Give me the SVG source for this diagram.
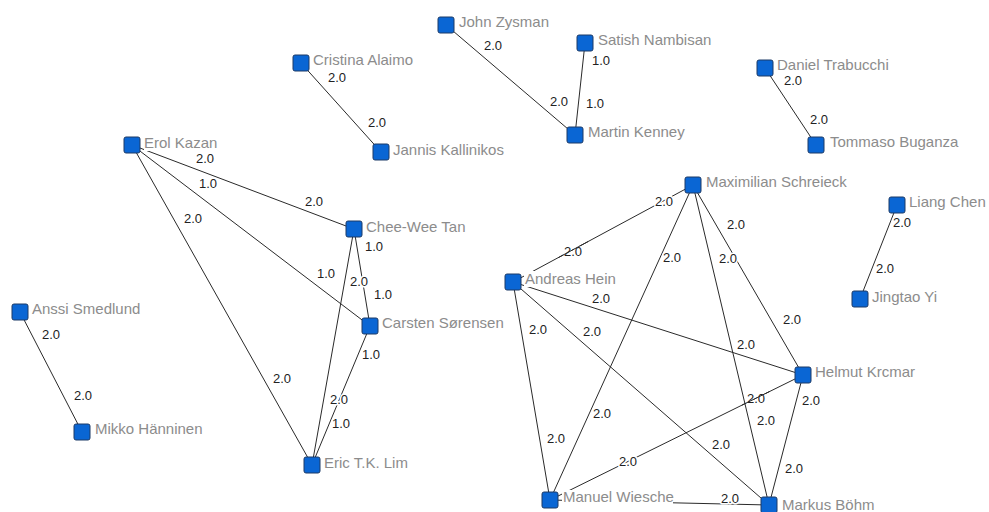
<svg xmlns="http://www.w3.org/2000/svg" width="989" height="512" viewBox="0 0 989 512">
<style>
.e{stroke:#2a2a2a;stroke-width:1;fill:none}
.el{font-family:"Liberation Sans",Arial,sans-serif;font-size:13px;fill:#222;stroke:#fff;stroke-width:3px;paint-order:stroke;stroke-linejoin:round}
.n{fill:#0a66d4;stroke:#1d3a66;stroke-width:1}
.nl{font-family:"Liberation Sans",Arial,sans-serif;font-size:15px;fill:#8c8c8c}
.bg{fill:#fff}
</style>
<rect width="989" height="512" fill="#fff"/>
<g id="connectors">
<line class="e" x1="132" y1="145" x2="354" y2="229"/>
<line class="e" x1="132" y1="145" x2="370" y2="326"/>
<line class="e" x1="132" y1="145" x2="312" y2="465"/>
<line class="e" x1="354" y1="229" x2="370" y2="326"/>
<line class="e" x1="354" y1="229" x2="312" y2="465"/>
<line class="e" x1="370" y1="326" x2="312" y2="465"/>
<line class="e" x1="301" y1="63" x2="381" y2="152"/>
<line class="e" x1="446" y1="25" x2="575" y2="135"/>
<line class="e" x1="585" y1="43" x2="575" y2="135"/>
<line class="e" x1="765" y1="68" x2="816" y2="145"/>
<line class="e" x1="897" y1="205" x2="860" y2="299"/>
<line class="e" x1="20" y1="312" x2="82" y2="432"/>
<line class="e" x1="513" y1="282" x2="693" y2="185"/>
<line class="e" x1="513" y1="282" x2="803" y2="375"/>
<line class="e" x1="513" y1="282" x2="550" y2="500"/>
<line class="e" x1="513" y1="282" x2="769" y2="505"/>
<line class="e" x1="693" y1="185" x2="803" y2="375"/>
<line class="e" x1="693" y1="185" x2="550" y2="500"/>
<line class="e" x1="693" y1="185" x2="769" y2="505"/>
<line class="e" x1="803" y1="375" x2="550" y2="500"/>
<line class="e" x1="803" y1="375" x2="769" y2="505"/>
<line class="e" x1="550" y1="500" x2="769" y2="505"/>
<g id="edge-labels">
<text class="el" x="196" y="163">2.0</text>
<text class="el" x="199" y="188">1.0</text>
<text class="el" x="305" y="206">2.0</text>
<text class="el" x="184" y="223">2.0</text>
<text class="el" x="365" y="251">1.0</text>
<text class="el" x="317" y="278">1.0</text>
<text class="el" x="350" y="286">2.0</text>
<text class="el" x="374" y="299">1.0</text>
<text class="el" x="362" y="359">1.0</text>
<text class="el" x="273" y="383">2.0</text>
<text class="el" x="330" y="404">2.0</text>
<text class="el" x="332" y="428">1.0</text>
<text class="el" x="484" y="50">2.0</text>
<text class="el" x="592" y="65">1.0</text>
<text class="el" x="328" y="82">2.0</text>
<text class="el" x="368" y="127">2.0</text>
<text class="el" x="550" y="106">2.0</text>
<text class="el" x="586" y="108">1.0</text>
<text class="el" x="784" y="85">2.0</text>
<text class="el" x="810" y="124">2.0</text>
<text class="el" x="893" y="227">2.0</text>
<text class="el" x="876" y="273">2.0</text>
<text class="el" x="42" y="339">2.0</text>
<text class="el" x="74" y="400">2.0</text>
<text class="el" x="655" y="206">2.0</text>
<text class="el" x="727" y="229">2.0</text>
<text class="el" x="564" y="256">2.0</text>
<text class="el" x="663" y="262">2.0</text>
<text class="el" x="719" y="263">2.0</text>
<text class="el" x="592" y="303">2.0</text>
<text class="el" x="529" y="334">2.0</text>
<text class="el" x="583" y="336">2.0</text>
<text class="el" x="783" y="324">2.0</text>
<text class="el" x="737" y="349">2.0</text>
<text class="el" x="747" y="403">2.0</text>
<text class="el" x="802" y="405">2.0</text>
<text class="el" x="593" y="418">2.0</text>
<text class="el" x="757" y="425">2.0</text>
<text class="el" x="547" y="443">2.0</text>
<text class="el" x="712" y="449">2.0</text>
<text class="el" x="619" y="466">2.0</text>
<text class="el" x="785" y="473">2.0</text>
<text class="el" x="721" y="503">2.0</text>
</g>
<line class="e" x1="558" y1="257.8" x2="588" y2="241.6"/>
<line class="e" x1="742" y1="405.1" x2="770" y2="391.3"/>
</g>
<g id="node-erol-kazan"><rect class="n" x="124" y="137" width="16" height="16" rx="2"/><rect class="bg" x="144" y="136" width="74" height="15"/><text class="nl" x="144" y="148">Erol Kazan</text></g>
<g id="node-chee-wee-tan"><rect class="n" x="346" y="221" width="16" height="16" rx="2"/><rect class="bg" x="366" y="220" width="102" height="15"/><text class="nl" x="366" y="232">Chee-Wee Tan</text></g>
<g id="node-carsten-sorensen"><rect class="n" x="362" y="318" width="16" height="16" rx="2"/><rect class="bg" x="382" y="316" width="122" height="15"/><text class="nl" x="382" y="328">Carsten Sørensen</text></g>
<g id="node-eric-lim"><rect class="n" x="304" y="457" width="16" height="16" rx="2"/><rect class="bg" x="324" y="456" width="86" height="15"/><text class="nl" x="324" y="468">Eric T.K. Lim</text></g>
<g id="node-cristina-alaimo"><rect class="n" x="293" y="55" width="16" height="16" rx="2"/><rect class="bg" x="313" y="53" width="101" height="15"/><text class="nl" x="313" y="65">Cristina Alaimo</text></g>
<g id="node-jannis-kallinikos"><rect class="n" x="373" y="144" width="16" height="16" rx="2"/><rect class="bg" x="393" y="143" width="111" height="15"/><text class="nl" x="393" y="155">Jannis Kallinikos</text></g>
<g id="node-john-zysman"><rect class="n" x="438" y="17" width="16" height="16" rx="2"/><rect class="bg" x="458" y="15" width="92" height="15"/><text class="nl" x="459" y="27">John Zysman</text></g>
<g id="node-satish-nambisan"><rect class="n" x="577" y="35" width="16" height="16" rx="2"/><rect class="bg" x="597" y="33" width="114" height="15"/><text class="nl" x="598" y="45">Satish Nambisan</text></g>
<g id="node-martin-kenney"><rect class="n" x="567" y="127" width="16" height="16" rx="2"/><rect class="bg" x="587" y="125" width="97" height="15"/><text class="nl" x="588" y="137">Martin Kenney</text></g>
<g id="node-daniel-trabucchi"><rect class="n" x="757" y="60" width="16" height="16" rx="2"/><rect class="bg" x="777" y="58" width="113" height="14"/><text class="nl" x="777" y="70">Daniel Trabucchi</text></g>
<g id="node-tommaso-buganza"><rect class="n" x="808" y="137" width="16" height="16" rx="2"/><rect class="bg" x="829" y="135" width="130" height="15"/><text class="nl" x="830" y="147">Tommaso Buganza</text></g>
<g id="node-liang-chen"><rect class="n" x="889" y="197" width="16" height="16" rx="2"/><rect class="bg" x="909" y="195" width="77" height="15"/><text class="nl" x="909" y="207">Liang Chen</text></g>
<g id="node-jingtao-yi"><rect class="n" x="852" y="291" width="16" height="16" rx="2"/><rect class="bg" x="872" y="290" width="66" height="15"/><text class="nl" x="872" y="302">Jingtao Yi</text></g>
<g id="node-anssi-smedlund"><rect class="n" x="12" y="304" width="16" height="16" rx="2"/><rect class="bg" x="32" y="302" width="109" height="15"/><text class="nl" x="32" y="314">Anssi Smedlund</text></g>
<g id="node-mikko-hanninen"><rect class="n" x="74" y="424" width="16" height="16" rx="2"/><rect class="bg" x="94" y="422" width="108" height="15"/><text class="nl" x="95" y="434">Mikko Hänninen</text></g>
<g id="node-maximilian-schreieck"><rect class="n" x="685" y="177" width="16" height="16" rx="2"/><rect class="bg" x="705" y="175" width="141" height="15"/><text class="nl" x="706" y="187">Maximilian Schreieck</text></g>
<g id="node-andreas-hein"><rect class="n" x="505" y="274" width="16" height="16" rx="2"/><rect class="bg" x="524" y="271" width="92" height="16"/><text class="nl" x="525" y="284">Andreas Hein</text></g>
<g id="node-helmut-krcmar"><rect class="n" x="795" y="367" width="16" height="16" rx="2"/><rect class="bg" x="814" y="365" width="101" height="15"/><text class="nl" x="815" y="377">Helmut Krcmar</text></g>
<g id="node-manuel-wiesche"><rect class="n" x="542" y="492" width="16" height="16" rx="2"/><rect class="bg" x="562" y="490" width="111" height="15"/><text class="nl" x="563" y="502">Manuel Wiesche</text></g>
<g id="node-markus-bohm"><rect class="n" x="761" y="497" width="16" height="16" rx="2"/><rect class="bg" x="781" y="497" width="93" height="15"/><text class="nl" x="782" y="510">Markus Böhm</text></g>
</svg>
